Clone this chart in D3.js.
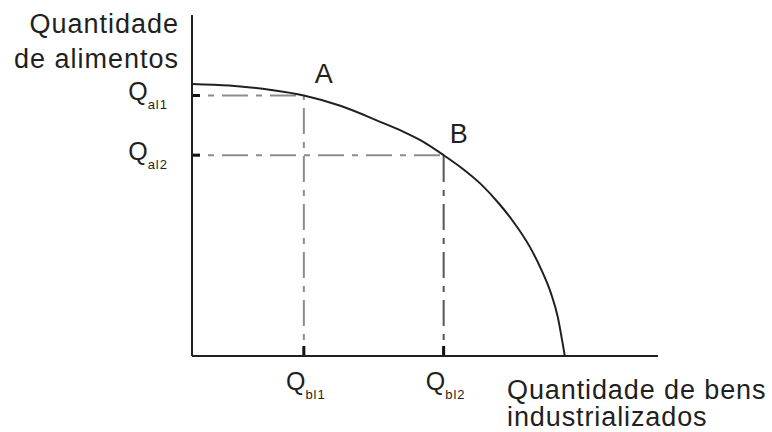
<html>
<head>
<meta charset="utf-8">
<script src="https://d3js.org/d3.v7.min.js"></script>
<style>
body { margin: 0; background: #fff; }
text { font-family: "Liberation Sans", Arial, sans-serif; fill: #231f20; }
</style>
</head>
<body>
<svg width="772" height="432"></svg>
<script>
// frontier (x = bens industrializados, y = alimentos)
const curveX = [0, 0.8, 1.7, 2.4, 3.2, 4.0, 4.5, 4.9, 5.4, 5.8, 6.2, 6.6, 6.9, 7.25, 7.5, 7.7, 7.85, 7.95, 8.0];
const curveY = [7.98, 7.93, 7.80, 7.64, 7.33, 6.89, 6.60, 6.33, 5.89, 5.50, 5.04, 4.45, 3.93, 3.20, 2.52, 1.85, 1.14, 0.40, 0];
const pointNames = ["A", "B"];
const pointX = [2.4, 5.4];
const pointY = [7.64, 5.89];
const ySubs = ["al1", "al2"];
const xSubs = ["bl1", "bl2"];
const yTitle = ["Quantidade", "de alimentos"];
const xTitle = ["Quantidade de bens", "industrializados"];

const svg = d3.select("svg");
const xs = d3.scaleLinear().domain([0, 10]).range([192, 658]);
const ys = d3.scaleLinear().domain([0, 10]).range([356, 15]);

// dash-dot guides
const guides = svg.append("g")
    .attr("fill", "none")
    .attr("stroke", "#8c8c8c")
    .attr("stroke-width", 2)
    .attr("stroke-dasharray", "26,8,6,8")
    .attr("stroke-dashoffset", 18);
guides.selectAll("line.h").data(pointX).enter().append("line")
    .attr("class", "h")
    .attr("x1", xs(0)).attr("y1", (d, i) => ys(pointY[i]))
    .attr("x2", d => xs(d)).attr("y2", (d, i) => ys(pointY[i]));
guides.selectAll("line.v").data(pointX).enter().append("line")
    .attr("class", "v")
    .attr("stroke", (d, i) => i == 1 ? "#555" : "#8c8c8c")
    .attr("x1", d => xs(d)).attr("y1", ys(0))
    .attr("x2", d => xs(d)).attr("y2", (d, i) => ys(pointY[i]));

// small dark ticks where the guides meet the axes
const ticks = svg.append("g").attr("stroke", "#111").attr("stroke-width", 3);
ticks.selectAll("line.ty").data(pointY).enter().append("line")
    .attr("x1", xs(0)).attr("x2", xs(0) + 8)
    .attr("y1", d => ys(d)).attr("y2", d => ys(d));
ticks.selectAll("line.tx").data(pointX).enter().append("line")
    .attr("x1", d => xs(d)).attr("x2", d => xs(d))
    .attr("y1", ys(0)).attr("y2", ys(0) - 10);

// axes
const axes = svg.append("g").attr("stroke", "#231f20").attr("stroke-width", 2);
axes.append("line").attr("x1", xs(0)).attr("y1", ys(0)).attr("x2", xs(0)).attr("y2", ys(10));
axes.append("line").attr("x1", xs(0)).attr("y1", ys(0)).attr("x2", xs(10)).attr("y2", ys(0));

// frontier
const line = d3.line()
    .x(d => xs(d[0]))
    .y(d => ys(d[1]))
    .curve(d3.curveMonotoneX);
svg.append("path")
    .datum(curveX.map((x, i) => [x, curveY[i]]))
    .attr("d", line)
    .attr("fill", "none")
    .attr("stroke", "#231f20")
    .attr("stroke-width", 2);

// point labels
svg.selectAll("text.pt").data(pointNames).enter().append("text")
    .attr("class", "pt")
    .attr("x", (d, i) => xs(pointX[i]) + (i == 0 ? 11 : 6))
    .attr("y", (d, i) => ys(pointY[i]) - 12)
    .style("font-size", "27px")
    .text(d => d);

// Q labels on the y axis
const yl = svg.selectAll("text.yl").data(ySubs).enter().append("text")
    .attr("class", "yl")
    .attr("text-anchor", "end")
    .attr("x", xs(0) - 24)
    .attr("y", (d, i) => ys(pointY[i]) + 5)
    .style("font-size", "25px");
yl.append("tspan").text("Q");
yl.append("tspan").attr("dy", 9).style("font-size", "13px").style("letter-spacing", "1px").text(d => d);

// Q labels on the x axis
const xl = svg.selectAll("text.xl").data(xSubs).enter().append("text")
    .attr("class", "xl")
    .attr("text-anchor", "middle")
    .attr("x", (d, i) => xs(pointX[i]) + 2)
    .attr("y", ys(0) + 34)
    .style("font-size", "25px");
xl.append("tspan").text("Q");
xl.append("tspan").attr("dy", 9).style("font-size", "13px").style("letter-spacing", "1px").text(d => d);

// axis titles (two lines each, one text element)
const yt = svg.append("text")
    .attr("text-anchor", "end")
    .attr("y", 33)
    .style("font-size", "27px")
    .style("letter-spacing", "1px");
yt.selectAll("tspan").data(yTitle).enter().append("tspan")
    .attr("x", 179)
    .attr("dy", (d, i) => i == 0 ? 0 : 35)
    .text(d => d);
const xt = svg.append("text")
    .attr("y", 399)
    .style("font-size", "27px")
    .style("letter-spacing", "0.9px");
xt.selectAll("tspan").data(xTitle).enter().append("tspan")
    .attr("x", 507)
    .attr("dy", (d, i) => i == 0 ? 0 : 27)
    .text(d => d);
</script>
</body>
</html>
